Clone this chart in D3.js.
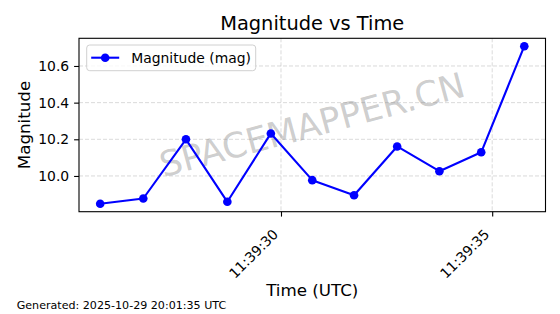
<!DOCTYPE html>
<html>
<head>
<meta charset="utf-8">
<script src="https://cdn.jsdelivr.net/npm/d3@7/dist/d3.min.js"></script>
<style>
  body { margin: 0; background: #fff; }
  svg { display: block; font-family: "DejaVu Sans", sans-serif; }
</style>
</head>
<body>
<div id="chart"></div>
<script>
// observation times (UTC) and magnitudes
const times = ['11:39:25.72', '11:39:26.74', '11:39:27.75', '11:39:28.73', '11:39:29.76',
  '11:39:30.74', '11:39:31.73', '11:39:32.75', '11:39:33.75', '11:39:34.74', '11:39:35.76'];
const magnitudes = [9.848, 9.877, 10.200, 9.859, 10.232, 9.977, 9.895, 10.161, 10.026, 10.129, 10.708];
const yTicks = [10.0, 10.2, 10.4, 10.6];

const width = 560;
const height = 314;
const margin = { top: 38.3, right: 14.5, bottom: 102.3, left: 79 };
const plotW = width - margin.left - margin.right;
const plotH = height - margin.top - margin.bottom;

const parseTime = d3.utcParse('%H:%M:%S.%L');
const data = times.map((t, i) => ({ t: parseTime(t + '0'), m: magnitudes[i] }));

// matplotlib style 5% padding around the data
const tExt = d3.extent(data, d => +d.t);
const tPad = (tExt[1] - tExt[0]) * 0.05;
const mExt = d3.extent(data, d => d.m);
const mPad = (mExt[1] - mExt[0]) * 0.05;

const x = d3.scaleUtc()
  .domain([new Date(tExt[0] - tPad), new Date(tExt[1] + tPad)])
  .range([0, plotW]);

const y = d3.scaleLinear()
  .domain([mExt[0] - mPad, mExt[1] + mPad])
  .range([plotH, 0]);

const svg = d3.select('#chart')
  .append('svg')
  .attr('width', width)
  .attr('height', height);

const g = svg.append('g')
  .attr('transform', `translate(${margin.left},${margin.top})`);

const xTicks = x.ticks(d3.utcSecond.every(5));

// grid
g.append('g')
  .selectAll('line')
  .data(yTicks)
  .join('line')
  .attr('x1', 0)
  .attr('x2', plotW)
  .attr('y1', d => y(d))
  .attr('y2', d => y(d))
  .attr('stroke', '#b0b0b0')
  .attr('stroke-opacity', 0.6)
  .attr('stroke-width', 0.8)
  .attr('stroke-dasharray', '4,2');

g.append('g')
  .selectAll('line')
  .data(xTicks)
  .join('line')
  .attr('x1', d => x(d))
  .attr('x2', d => x(d))
  .attr('y1', 0)
  .attr('y2', plotH)
  .attr('stroke', '#b0b0b0')
  .attr('stroke-opacity', 0.6)
  .attr('stroke-width', 0.8)
  .attr('stroke-dasharray', '4,2');

// watermark
g.append('text')
  .attr('transform', `translate(${plotW / 2},${plotH / 2}) rotate(-15)`)
  .attr('text-anchor', 'middle')
  .attr('dominant-baseline', 'central')
  .style('font-size', '35px')
  .attr('fill', '#808080')
  .attr('fill-opacity', 0.4)
  .text('SPACEMAPPER.CN');

// line + markers
const line = d3.line()
  .x(d => x(d.t))
  .y(d => y(d.m));

g.append('path')
  .datum(data)
  .attr('fill', 'none')
  .attr('stroke', '#0000ff')
  .attr('stroke-width', 2.1)
  .attr('stroke-linejoin', 'round')
  .attr('d', line);

g.selectAll('circle')
  .data(data)
  .join('circle')
  .attr('cx', d => x(d.t))
  .attr('cy', d => y(d.m))
  .attr('r', 4.3)
  .attr('fill', '#0000ff');

// axes
const yAxis = g.append('g')
  .call(d3.axisLeft(y).tickValues(yTicks).tickFormat(d3.format('.1f')).tickSize(4.9).tickPadding(4.9));

const xAxis = g.append('g')
  .attr('transform', `translate(0,${plotH})`)
  .call(d3.axisBottom(x).tickValues(xTicks).tickFormat(d3.utcFormat('%H:%M:%S')).tickSize(4.9).tickPadding(0));

[xAxis, yAxis].forEach(a => {
  a.select('.domain').remove();
  a.selectAll('line').attr('stroke', '#000').attr('stroke-width', 1.1);
  a.selectAll('text')
    .attr('fill', '#000')
    .style('font-family', '"DejaVu Sans", sans-serif')
    .style('font-size', '13.9px');
});

xAxis.selectAll('text')
  .attr('text-anchor', 'end')
  .attr('dy', null)
  .attr('y', null)
  .attr('transform', 'translate(-2.5,23.5) rotate(-45)');

// frame
g.append('rect')
  .attr('width', plotW)
  .attr('height', plotH)
  .attr('fill', 'none')
  .attr('stroke', '#000')
  .attr('stroke-width', 1.1);

// legend
const legend = g.append('g').attr('transform', 'translate(7.7,6.7)');
legend.append('rect')
  .attr('width', 169)
  .attr('height', 25.7)
  .attr('rx', 3)
  .attr('fill', '#fff')
  .attr('fill-opacity', 0.8)
  .attr('stroke', '#d0d0d0')
  .attr('stroke-width', 1);
legend.append('line')
  .attr('x1', 4.5).attr('x2', 32.5)
  .attr('y1', 12.7).attr('y2', 12.7)
  .attr('stroke', '#0000ff')
  .attr('stroke-width', 2.1);
legend.append('circle')
  .attr('cx', 18.5).attr('cy', 12.7).attr('r', 4.3)
  .attr('fill', '#0000ff');
legend.append('text')
  .attr('x', 44.5)
  .attr('y', 17.6)
  .style('font-size', '13.9px')
  .text('Magnitude (mag)');

// title and axis labels
svg.append('text')
  .attr('x', margin.left + plotW / 2)
  .attr('y', 29.7)
  .attr('text-anchor', 'middle')
  .style('font-size', '19.4px')
  .text('Magnitude vs Time');

svg.append('text')
  .attr('x', margin.left + plotW / 2)
  .attr('y', 296)
  .attr('text-anchor', 'middle')
  .style('font-size', '16.7px')
  .text('Time (UTC)');

svg.append('text')
  .attr('transform', `translate(29.5,${margin.top + plotH / 2}) rotate(-90)`)
  .attr('text-anchor', 'middle')
  .style('font-size', '16.7px')
  .text('Magnitude');

svg.append('text')
  .attr('x', 16.7)
  .attr('y', 309)
  .style('font-size', '11.1px')
  .text('Generated: 2025-10-29 20:01:35 UTC');
</script>
</body>
</html>
